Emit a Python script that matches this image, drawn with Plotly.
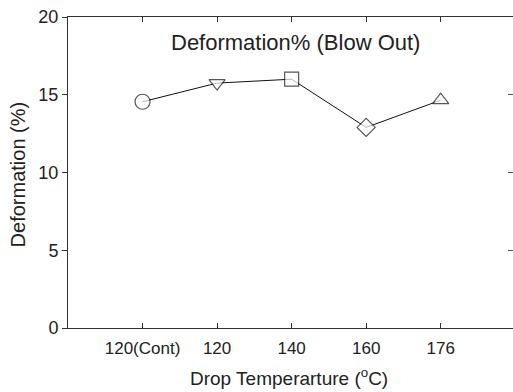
import plotly.graph_objects as go

# Drop temperature groups and measured deformation (%)
categories = ["120(Cont)", "120", "140", "160", "176"]
deformation = [14.55, 15.75, 16.0, 12.9, 14.65]
symbols = ["circle", "triangle-down", "square", "diamond", "triangle-up"]
marker_sizes = [15, 14, 14, 14, 14]

y_ticks = [0, 5, 10, 15, 20]
positions = list(range(1, len(categories) + 1))

FONT = "Arial, Liberation Sans, sans-serif"
INK = "#222222"
AXIS = "#333333"

X_RANGE = [0, 5.97]
Y_RANGE = [0, 20]

fig = go.Figure()
fig.add_trace(go.Scatter(
    x=positions,
    y=deformation,
    mode="lines+markers",
    line=dict(color="#111111", width=1),
    marker=dict(
        symbol=symbols,
        size=marker_sizes,
        color="white",
        line=dict(color="#111111", width=1.2),
    ),
    showlegend=False,
))
# Same series on the top/right frame axes (invisible) so those axes carry ticks
fig.add_trace(go.Scatter(
    x=positions, y=deformation, xaxis="x2", yaxis="y2",
    mode="none", hoverinfo="skip", showlegend=False,
))

fig.update_layout(
    template="none",
    width=513,
    height=392,
    margin=dict(l=68, r=0, t=17, b=64),
    paper_bgcolor="white",
    plot_bgcolor="white",
    font=dict(family=FONT, size=17, color=INK),
    xaxis=dict(
        range=X_RANGE,
        tickvals=positions,
        ticktext=categories,
        ticks="inside",
        ticklen=5,
        tickcolor=AXIS,
        showline=True,
        linecolor=AXIS,
        linewidth=1,
        mirror=False,
        showgrid=False,
        zeroline=False,
        automargin=False,
        ticklabelstandoff=5,
        tickfont=dict(size=17, color=INK),
    ),
    xaxis2=dict(
        range=X_RANGE,
        tickvals=positions,
        overlaying="x",
        side="top",
        anchor="y",
        ticks="inside",
        ticklen=5,
        tickcolor=AXIS,
        showticklabels=False,
        showline=True,
        linecolor=AXIS,
        linewidth=1,
        showgrid=False,
        zeroline=False,
        automargin=False,
    ),
    yaxis=dict(
        range=Y_RANGE,
        tickvals=y_ticks,
        ticks="outside",
        ticklen=5,
        tickcolor=AXIS,
        showline=True,
        linecolor=AXIS,
        linewidth=1,
        mirror=False,
        showgrid=False,
        zeroline=False,
        automargin=False,
        ticklabelstandoff=0,
        tickfont=dict(size=18, color=INK),
    ),
    yaxis2=dict(
        range=Y_RANGE,
        tickvals=y_ticks,
        overlaying="y",
        side="right",
        anchor="x",
        ticks="inside",
        ticklen=5,
        tickcolor="#555555",
        showticklabels=False,
        showline=False,
        showgrid=False,
        zeroline=False,
        automargin=False,
    ),
    annotations=[
        dict(
            text="Deformation% (Blow Out)",
            xref="paper", yref="paper", x=0.512, y=0.917,
            xanchor="center", yanchor="middle", showarrow=False,
            font=dict(size=22, color=INK, family=FONT),
        ),
        dict(
            text="Drop Temperarture (<sup>o</sup>C)",
            xref="paper", yref="paper", x=0.497, y=-0.203,
            xanchor="center", yanchor="bottom", showarrow=False,
            font=dict(size=19, color=INK, family=FONT),
        ),
        dict(
            text="Deformation (%)",
            xref="paper", yref="paper", x=-0.113, y=0.493,
            xanchor="center", yanchor="middle", showarrow=False,
            textangle=-90,
            font=dict(size=20, color=INK, family=FONT),
        ),
    ],
)

fig.write_html("out.html")
